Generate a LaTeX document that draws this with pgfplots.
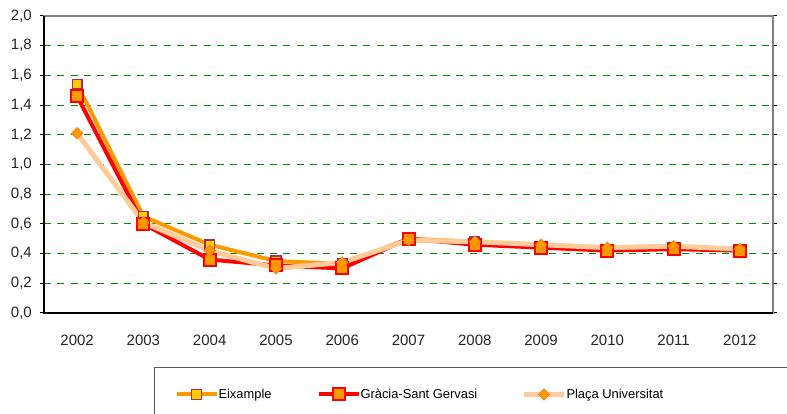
\documentclass[border=0pt]{standalone}
\usepackage{fontspec}
\setmainfont{Liberation Sans}
\usepackage{pgfplots}
\pgfplotsset{compat=1.18}
\definecolor{eixline}{RGB}{255,153,0}
\definecolor{eixfill}{RGB}{255,204,0}
\definecolor{eixdraw}{RGB}{153,51,102}
\definecolor{grline}{RGB}{255,0,0}
\definecolor{grfill}{RGB}{255,153,0}
\definecolor{plline}{RGB}{255,204,153}
\definecolor{plfill}{RGB}{255,153,0}
\definecolor{pldraw}{RGB}{245,130,20}
\definecolor{gridgreen}{RGB}{0,145,0}
\pgfplotstableread{
x eix gr pl
0 1.54 1.46 1.21
1 0.65 0.60 0.61
2 0.46 0.36 0.42
3 0.35 0.32 0.30
4 0.33 0.30 0.34
5 0.50 0.50 0.49
6 0.48 0.46 0.48
7 0.45 0.44 0.46
8 0.43 0.42 0.44
9 0.44 0.43 0.45
10 0.42 0.42 0.43
}\datatable
\begin{document}
\begin{tikzpicture}
\clip (0,0) rectangle (787pt,414pt);
\fill[white] (0,0) rectangle (787pt,414pt);
\begin{axis}[
  name=ax,
  at={(44pt,101pt)}, anchor=south west,
  scale only axis, width=729pt, height=297pt,
  xmin=-0.5, xmax=10.5, ymin=0, ymax=2,
  xtick={0,...,10},
  xticklabels={2002,2003,2004,2005,2006,2007,2008,2009,2010,2011,2012},
  x tick style={draw=none},
  extra x ticks={-0.5,0.5,...,10.5},
  extra x tick labels={},
  extra x tick style={tick align=outside, major tick length=5pt, tick style={draw=black, line width=1pt}, grid=none},
  ytick={0,0.2,...,2.01},
  y tick style={draw=black, line width=1pt},
  tick align=outside, major tick length=4pt,
  ymajorgrids,
  major grid style={draw=gridgreen, dash pattern=on 7pt off 6.3pt, line width=1pt},
  yticklabel={\pgfmathprintnumber[fixed,fixed zerofill,precision=1,use comma]{\tick}},
  /pgf/number format/assume math mode=true,
  tick label style={font=\fontsize{15}{18}\selectfont, text=black!85},
  yticklabel style={anchor=east, inner sep=0pt, xshift=-8pt},
  xticklabel style={anchor=center, inner sep=0pt, yshift=-23.5pt},
  axis line style={draw=gray, line width=1.6pt},
  legend style={at={(0.1509,-0.1818)}, anchor=north west, draw=black!65, line width=1pt,
    inner xsep=20pt, inner ysep=21pt, column sep=0pt,
    nodes={inner sep=0pt}, font=\fontsize{12.9}{15}\selectfont},
  legend columns=3,
  legend cell align=left,
  legend image code/.code={\draw[mark repeat=2,mark phase=2,#1] plot coordinates {(0pt,0pt) (20pt,0pt) (40pt,0pt)};},
]
\addplot[eixline, line width=4pt, mark=square*, mark size=4.8pt,
  mark options={fill=eixfill, draw=eixdraw, line width=1.5pt}] table[x=x,y=eix] {\datatable};
\addlegendentry{\makebox[98pt][l]{Eixample}}
\addplot[grline, line width=4pt, mark=square*, mark size=6pt,
  mark options={fill=grfill, draw=grline, line width=2pt}] table[x=x,y=gr] {\datatable};
\addlegendentry{\makebox[161pt][l]{Gràcia-Sant Gervasi}}
\addplot[plline, line width=5pt, mark=square*, mark size=4pt,
  mark options={rotate=45, fill=plfill, draw=pldraw, line width=0.8pt}] table[x=x,y=pl] {\datatable};
\addlegendentry{\makebox[260pt][l]{Plaça Universitat}}
\end{axis}
\draw[black, line width=1.3pt] (ax.north west) -- (ax.south west) -- (ax.south east);
\end{tikzpicture}
\end{document}
